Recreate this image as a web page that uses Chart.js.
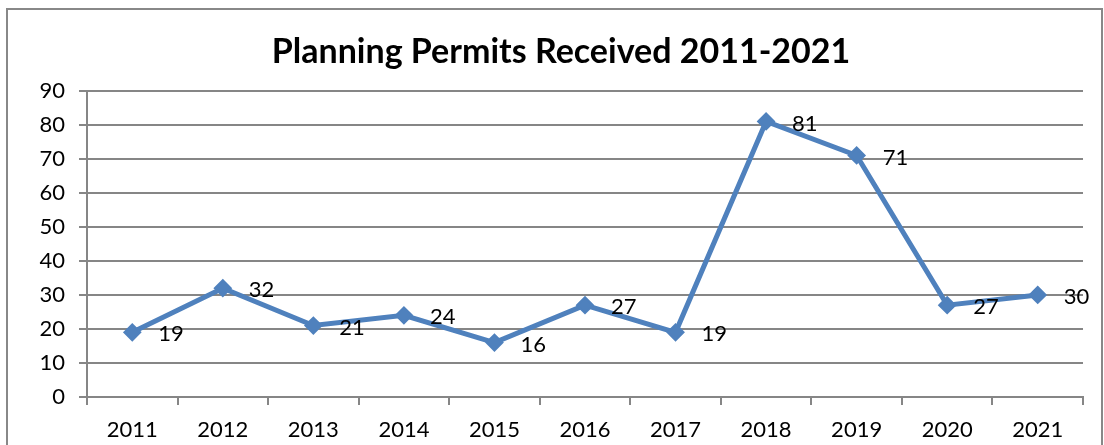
<!DOCTYPE html>
<html>
<head>
<meta charset="utf-8">
<script src="https://cdn.jsdelivr.net/npm/chart.js@4"></script>
<style>
  html, body { margin: 0; padding: 0; background: #fff; }
  #wrap { width: 1104px; height: 445px; }
</style>
</head>
<body>
<div id="wrap"><canvas id="permitsChart" width="1104" height="445"></canvas></div>
<script>
const years = ['2011', '2012', '2013', '2014', '2015', '2016', '2017', '2018', '2019', '2020', '2021'];
const permits = [19, 32, 21, 24, 16, 27, 19, 81, 71, 27, 30];
const yTicks = [0, 10, 20, 30, 40, 50, 60, 70, 80, 90];
const chartTitle = 'Planning Permits Received 2011-2021';

const FONT = 'Lato, "Open Sans", sans-serif';
const GRID = '#868686';

// outer frame like the spreadsheet chart box
const framePlugin = {
    id: 'frame',
    beforeDraw(chart) {
        const ctx = chart.ctx;
        ctx.save();
        ctx.fillStyle = '#fff';
        ctx.fillRect(0, 0, chart.width, chart.height);
        ctx.strokeStyle = '#888';
        ctx.lineWidth = 2;
        ctx.strokeRect(7, 9, chart.width - 9, chart.height + 10);
        ctx.restore();
    }
};

// the built-in title reserves the space; this draws it a bit right of centre like the original
const titleText = {
    id: 'titleText',
    afterDraw(chart) {
        const t = chart.titleBlock;
        const ctx = chart.ctx;
        ctx.save();
        ctx.font = 'bold 34px ' + FONT;
        ctx.fillStyle = '#000';
        ctx.textAlign = 'center';
        ctx.textBaseline = 'middle';
        const top = t.top + 23;
        ctx.fillText(chartTitle, 561, top + 34 * 1.2 / 2);
        ctx.restore();
    }
};

// value labels to the right of each marker
const valueLabels = {
    id: 'valueLabels',
    afterDatasetsDraw(chart) {
        const ctx = chart.ctx;
        const meta = chart.getDatasetMeta(0);
        ctx.save();
        ctx.font = '22px ' + FONT;
        ctx.fillStyle = '#000';
        ctx.textAlign = 'left';
        ctx.textBaseline = 'middle';
        meta.data.forEach((pt, i) => {
            ctx.fillText(String(permits[i]), pt.x + 26, pt.y + 2);
        });
        ctx.restore();
    }
};

new Chart(document.getElementById('permitsChart'), {
    type: 'line',
    data: {
        labels: years,
        datasets: [{
            label: 'Planning Permits',
            data: permits,
            borderColor: '#4F81BD',
            backgroundColor: '#4F81BD',
            borderWidth: 5,
            tension: 0,
            pointStyle: 'rectRot',
            pointRadius: 8,
            pointHoverRadius: 8,
            pointBorderWidth: 2,
            pointBorderColor: '#4F81BD',
            pointBackgroundColor: '#4F81BD'
        }]
    },
    options: {
        responsive: false,
        animation: false,
        layout: { padding: { left: 8, right: 21, top: 9, bottom: 0 } },
        plugins: {
            legend: { display: false },
            tooltip: { enabled: false },
            title: {
                display: true,
                text: chartTitle,
                color: 'rgba(0,0,0,0)',
                font: { family: FONT, size: 34, weight: 'bold' },
                padding: { top: 23, bottom: 18 }
            }
        },
        scales: {
            x: {
                offset: true,
                grid: {
                    offset: true,
                    drawOnChartArea: false,
                    drawTicks: true,
                    tickLength: 8,
                    color: GRID,
                    lineWidth: 2
                },
                border: { display: true, color: GRID, width: 2 },
                ticks: {
                    color: '#000',
                    font: { family: FONT, size: 22 },
                    padding: 12,
                    maxRotation: 0
                },
                afterFit(scale) { scale.height = 48; }
            },
            y: {
                min: 0,
                max: 90,
                afterBuildTicks(scale) { scale.ticks = yTicks.map(v => ({ value: v })); },
                grid: {
                    color: GRID,
                    lineWidth: 2,
                    drawTicks: true,
                    tickLength: 8,
                    tickColor: GRID
                },
                border: { display: true, color: GRID, width: 2 },
                ticks: {
                    color: '#000',
                    font: { family: FONT, size: 22 },
                    padding: 14
                },
                afterFit(scale) { scale.width = 79; }
            }
        }
    },
    plugins: [framePlugin, valueLabels, titleText]
});
</script>
</body>
</html>
